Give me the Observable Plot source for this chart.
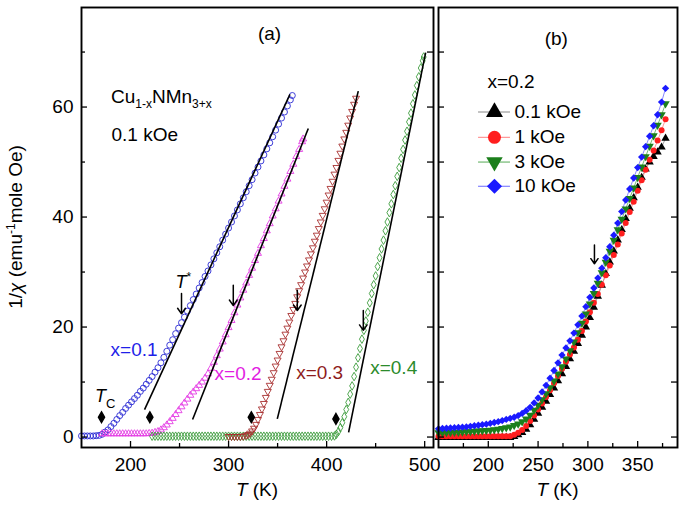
<!DOCTYPE html>
<html><head><meta charset="utf-8">
<script src="https://cdn.jsdelivr.net/npm/d3@7"></script>
<script src="https://cdn.jsdelivr.net/npm/@observablehq/plot@0.6"></script>
<style>
body{margin:0;background:#fff;}
#wrap{position:relative;width:685px;height:508px;}
#wrap svg{position:absolute;top:0;}
</style></head><body><div id="wrap"></div>
<script>
// ---------- Panel (a): Cu1-xNMn3+x, 0.1 kOe, pairs [T (K), 1/chi] ----------
const x01 = [[150,0.2],[153,0.2],[156,0.2],[159,0.2],[162,0.2],[165,0.25],[168,0.3],[171,0.5],[174,0.9],[177,1.3],[180,1.9],[183,2.5],[186,3.2],[189,3.9],[192,4.5],[195,5.2],[198,5.8],[201,6.4],[204,7.0],[207,7.6],[210,8.3],[213,8.9],[216,9.6],[219,10.3],[222,11.0],[225,11.8],[228,12.6],[231,13.5],[234,14.5],[237,15.6],[240,16.7],[243,17.7],[246,18.8],[249,19.8],[252,20.8],[255,21.8],[258,22.9],[261,23.9],[264,25.0],[267,26.0],[270,27.1],[273,28.1],[276,29.2],[279,30.2],[282,31.3],[285,32.4],[288,33.5],[291,34.6],[294,35.8],[297,36.9],[300,38.0],[303,39.1],[306,40.2],[309,41.3],[312,42.4],[315,43.5],[318,44.6],[321,45.7],[324,46.8],[327,48.0],[330,49.1],[333,50.2],[336,51.3],[339,52.4],[342,53.5],[345,54.6],[348,55.8],[351,56.9],[354,58.0],[357,59.1],[360,60.2],[363,61.3],[365,62.1]];
const x02 = [[171,0.6],[174,0.6],[177,0.6],[180,0.6],[183,0.6],[186,0.6],[189,0.6],[192,0.6],[195,0.6],[198,0.6],[201,0.6],[204,0.6],[207,0.6],[210,0.6],[213,0.6],[216,0.6],[219,0.65],[222,0.7],[225,0.85],[228,1.0],[231,1.3],[234,1.7],[237,2.2],[240,2.8],[243,3.4],[246,4.1],[249,4.8],[252,5.5],[255,6.2],[258,6.9],[261,7.6],[264,8.2],[267,8.8],[270,9.4],[273,10.0],[276,10.7],[279,11.5],[282,12.5],[285,13.6],[288,14.8],[291,16.0],[294,17.3],[297,18.6],[300,19.9],[303,21.2],[306,22.6],[309,24.0],[312,25.3],[315,26.7],[318,28.0],[321,29.4],[324,30.7],[327,32.1],[330,33.4],[333,34.8],[336,36.1],[339,37.5],[342,38.8],[345,40.2],[348,41.5],[351,42.9],[354,44.2],[357,45.6],[360,46.9],[363,48.3],[366,49.6],[369,51.0],[372,52.3],[375,53.7],[376,54.2]];
const x03 = [[300,0.1],[303,0.1],[306,0.1],[309,0.1],[312,0.1],[315,0.15],[318,0.3],[320,0.45],[322,0.7],[324,1.1],[326,1.6],[328,2.3],[330,3.2],[332,4.1],[334,5.1],[336,6.1],[338,7.2],[340,8.3],[342,9.4],[344,10.5],[346,11.7],[348,12.9],[350,14.0],[352,15.2],[354,16.4],[356,17.5],[358,18.7],[360,19.8],[362,20.9],[364,22.1],[366,23.2],[368,24.3],[370,25.5],[372,26.6],[374,27.7],[376,28.9],[378,30.0],[380,31.1],[382,32.2],[384,33.3],[386,34.4],[388,35.6],[390,36.7],[392,37.9],[394,39.1],[396,40.3],[398,41.5],[400,42.7],[402,44.0],[404,45.2],[406,46.5],[408,47.8],[410,49.0],[412,50.3],[414,51.6],[416,52.9],[418,54.2],[420,55.4],[422,56.7],[424,58.0],[426,59.2],[428,60.5],[430,61.6]];
const x04 = [[222,0.15],[225,0.15],[228,0.15],[231,0.15],[234,0.15],[237,0.15],[240,0.15],[243,0.15],[246,0.15],[249,0.15],[252,0.15],[255,0.15],[258,0.15],[261,0.15],[264,0.15],[267,0.15],[270,0.15],[273,0.15],[276,0.15],[279,0.15],[282,0.15],[285,0.15],[288,0.15],[291,0.15],[294,0.15],[297,0.15],[300,0.15],[303,0.15],[306,0.15],[309,0.15],[312,0.15],[315,0.15],[318,0.15],[321,0.15],[324,0.15],[327,0.15],[330,0.15],[333,0.15],[336,0.15],[339,0.15],[342,0.15],[345,0.15],[348,0.15],[351,0.15],[354,0.15],[357,0.15],[360,0.15],[363,0.15],[366,0.15],[369,0.15],[372,0.15],[375,0.15],[378,0.15],[381,0.15],[384,0.15],[387,0.15],[390,0.15],[393,0.15],[396,0.15],[399,0.15],[402,0.15],[405,0.15],[408,0.2],[410,0.5],[412,1.0],[414,1.7],[416,2.6],[418,3.7],[420,5.0],[422,6.3],[424,7.8],[426,9.3],[428,11.0],[430,12.7],[432,14.4],[434,16.1],[436,17.8],[438,19.4],[440,21.1],[442,22.7],[444,24.4],[446,26.1],[448,27.7],[450,29.3],[452,31.0],[454,32.6],[456,34.2],[458,35.8],[460,37.5],[462,39.1],[464,40.8],[466,42.4],[468,44.1],[470,45.7],[472,47.4],[474,49.0],[476,50.7],[478,52.3],[480,54.0],[482,55.6],[484,57.3],[486,58.9],[488,60.6],[490,62.2],[492,63.9],[494,65.5],[496,67.1],[498,68.4],[499,69.1]];
// linear fits: start T, start value, end T, end value
const fitStartT = [214.3, 263.3, 349.7, 422.4];
const fitStartV = [5.0, 3.2, 3.3, 0.85];
const fitEndT = [362.6, 381.3, 432.3, 501.0];
const fitEndV = [62.3, 56.1, 62.9, 69.9];
// Tc markers
const tcT = [170.4, 219.7, 323.2, 409.5];
const tcV = [3.6, 3.6, 3.6, 3.3];
// T* arrows
const starT = [252, 304.8, 370.1, 437.4];
const starTop = [26.1, 27.6, 26.7, 23.0];
const starTip = [22.4, 23.9, 23.0, 19.4];
const labelsA = ["x=0.1", "x=0.2", "x=0.3", "x=0.4"];

// ---------- Panel (b): x = 0.2, different fields ----------
const tB = [150,154,158,162,166,170,174,178,182,186,190,194,198,202,206,210,214,218,222,226,230,234,238,242,246,250,254,258,262,266,270,274,278,282,286,290,294,298,302,306,310,314,318,322,326,330,334,338,342,346,350,354,358,362,366,370,374,378];
const k01 = [-0.1,-0.1,-0.1,-0.1,-0.1,-0.1,-0.1,-0.1,-0.1,-0.1,-0.1,-0.1,-0.1,-0.1,-0.1,-0.1,-0.1,-0.1,-0.1,0.1,0.4,0.8,1.4,2.2,3.2,4.3,5.4,6.5,7.7,8.9,10.2,11.5,12.8,14.2,15.6,17.0,18.5,20.0,21.7,23.6,25.6,27.6,29.7,31.8,33.8,35.8,37.7,39.7,41.6,43.5,45.4,47.2,48.7,50.0,51.0,51.8,52.7,54.3];
const k1 = [0.15,0.15,0.15,0.15,0.15,0.15,0.15,0.15,0.15,0.15,0.15,0.15,0.15,0.15,0.15,0.15,0.15,0.15,0.15,0.4,0.8,1.3,2.0,2.9,3.9,5.0,6.1,7.3,8.5,9.8,11.1,12.4,13.7,15.0,16.3,17.7,19.3,21.0,22.7,24.4,26.0,27.7,29.4,31.2,33.1,35.0,37.0,38.9,40.9,42.8,44.8,46.7,48.6,50.4,52.1,53.9,55.8,57.8];
const k3 = [0.8,0.8,0.85,0.85,0.9,0.9,0.95,1.0,1.0,1.05,1.1,1.15,1.2,1.25,1.35,1.45,1.55,1.7,1.85,2.1,2.4,2.8,3.3,4.0,4.9,5.8,6.8,7.9,9.0,10.2,11.5,12.8,14.2,15.7,17.3,19.0,20.7,22.4,24.2,26.1,28.0,29.9,31.8,33.8,35.8,37.7,39.6,41.5,43.4,45.3,47.2,49.1,51.0,52.9,54.8,56.7,58.6,60.6];
const k10 = [1.5,1.55,1.6,1.65,1.7,1.75,1.8,1.85,1.95,2.05,2.15,2.25,2.35,2.5,2.65,2.8,3.0,3.2,3.4,3.6,3.9,4.3,4.8,5.4,6.2,7.1,8.2,9.4,10.7,12.1,13.5,14.9,16.2,17.5,18.9,20.4,22.0,23.7,25.4,27.1,28.9,30.7,32.6,34.6,36.7,38.9,41.0,43.1,45.1,47.1,49.0,50.9,52.8,54.7,56.6,58.6,60.9,63.4];
const fieldLabels = ["0.1 kOe", "1 kOe", "3 kOe", "10 kOe"];
const arrowB = {t: 306.6, top: 34.9, tip: 31.5};

// ---------- ticks ----------
const yMajor = [0, 20, 40, 60];
const yMinor = [10, 30, 50, 70];
const yAll = [0, 10, 20, 30, 40, 50, 60, 70];
const xTicksA = [200, 300, 400, 500];
const xMinorA = [250, 350, 450];
const xTicksB = [200, 250, 300, 350];
const xMinorB = [175, 225, 275, 325, 375];

// ---------- layout ----------
const font = "'Liberation Sans', Arial, Helvetica, sans-serif";
const H = 508, mT = 7, mB = 61, innerH = H - mT - mB;
const yDomain = [-1.9, 78.1];
const WA = 436, mLA = 81, mRA = 3, innerWA = WA - mLA - mRA;
const WB = 249, mLB = 2, mRB = 8, innerWB = WB - mLB - mRB;

const sqrt3 = Math.sqrt(3);
const triangleDown = {draw(ctx, size) {
  const y = -Math.sqrt(size / (sqrt3 * 3));
  ctx.moveTo(0, -y * 2);
  ctx.lineTo(-sqrt3 * y, y);
  ctx.lineTo(sqrt3 * y, y);
  ctx.closePath();
}};
const rows = pairs => pairs.map(([t, v]) => ({t, v}));
const ns = "http://www.w3.org/2000/svg";
function rich(svg, x, y, segs, {anchor = "start", rotate = 0, size = 19} = {}) {
  const t = document.createElementNS(ns, "text");
  t.setAttribute("transform", `translate(${x},${y})` + (rotate ? ` rotate(${rotate})` : ""));
  t.setAttribute("text-anchor", anchor);
  t.setAttribute("font-family", font);
  t.setAttribute("font-size", size);
  t.setAttribute("fill", "black");
  let shift = 0;
  for (const s of segs) {
    const sp = document.createElementNS(ns, "tspan");
    const target = (s.shift || 0);
    sp.setAttribute("dy", target - shift);
    shift = target;
    if (s.size) sp.setAttribute("font-size", s.size);
    if (s.italic) sp.setAttribute("font-style", "italic");
    sp.textContent = s.text;
    t.appendChild(sp);
  }
  svg.appendChild(t);
}

const seriesA = [
  {data: x01, color: "#2a2ad4", symbol: "circle", r: 3},
  {data: x02, color: "#e43ce4", symbol: "triangle", r: 2.6},
  {data: x04, color: "#3c9c3c", symbol: "diamond", r: 2.6},
  {data: x03, color: "#a83030", symbol: triangleDown, r: 2.6}
];
const labelColors = ["#1f1fe8", "#e21ee2", "#8e1c1c", "#2b8b2b"];
const labelPos = [[203.6, 15.8], [309.7, 11.4], [392.9, 11.6], [468.4, 12.5]];

const fits = fitStartT.map((t, i) => ({t1: t, v1: fitStartV[i], t2: fitEndT[i], v2: fitEndV[i]}));
const tcs = tcT.map((t, i) => ({t, v: tcV[i]}));
const stars = starT.map((t, i) => ({t, top: starTop[i], tip: starTip[i]}));

const plotA = Plot.plot({
  width: WA, height: H, marginLeft: mLA, marginRight: mRA, marginTop: mT, marginBottom: mB,
  x: {domain: [150, 509]},
  y: {domain: yDomain},
  style: {fontFamily: font, fontSize: "19px", background: "transparent", color: "black", overflow: "visible"},
  marks: [
    ...seriesA.map(s => Plot.dot(rows(s.data), {x: "t", y: "v", symbol: s.symbol, r: s.r, fill: "none", stroke: s.color, strokeWidth: 0.9})),
    Plot.link(fits, {x1: "t1", y1: "v1", x2: "t2", y2: "v2", stroke: "black", strokeWidth: 1.6}),
    Plot.dot(tcs, {x: "t", y: "v", symbol: "diamond", r: 3.2, fill: "black", stroke: "black"}),
    Plot.arrow(stars, {x: "t", y1: "top", y2: "tip", stroke: "black", strokeWidth: 1.5, headAngle: 70}),
    ...labelsA.map((l, i) => Plot.text([l], {x: () => labelPos[i][0], y: () => labelPos[i][1], text: d => d, fill: labelColors[i], fontSize: 19})),
    Plot.text(["(a)"], {x: () => 341.8, y: () => 73.3, text: d => d, fontSize: 19, fill: "black"}),
    Plot.text(["0.1 kOe"], {x: () => 180.6, y: () => 55, text: d => d, fontSize: 19, fill: "black", textAnchor: "start"}),
    Plot.frame({stroke: "black", strokeWidth: 1.9}),
    Plot.tickY(yMajor, {y: d => d, insetRight: innerWA - 6, stroke: "black", strokeWidth: 1.3}),
    Plot.tickY(yMinor, {y: d => d, insetRight: innerWA - 4, stroke: "black", strokeWidth: 1.3}),
    Plot.tickY(yAll, {y: d => d, insetLeft: innerWA - 6, stroke: "black", strokeWidth: 1.3}),
    Plot.tickX(xTicksA, {x: d => d, insetTop: innerH - 6, stroke: "black", strokeWidth: 1.3}),
    Plot.tickX(xMinorA, {x: d => d, insetTop: innerH - 4, stroke: "black", strokeWidth: 1.3}),
    Plot.axisY(yMajor, {tickSize: 0, tickPadding: 8, label: null, fill: "black"}),
    Plot.axisX(xTicksA, {tickSize: 0, tickPadding: 10, label: null, fill: "black"})
  ]
});
plotA.style.left = "0px";
document.getElementById("wrap").appendChild(plotA);
{
  const sx = plotA.scale("x"), sy = plotA.scale("y");
  const c = 6.8;
  rich(plotA, sx.apply(180.6), sy.apply(61.8) + c, [{text: "Cu"}, {text: "1-x", size: 12, shift: 5}, {text: "NMn", shift: 0}, {text: "3+x", size: 12, shift: 5}]);
  rich(plotA, sx.apply(164.3), sy.apply(7.6) + c, [{text: "T", italic: true}, {text: "C", size: 13, shift: 6}], {size: 18});
  rich(plotA, sx.apply(246.5), sy.apply(28.2) + c, [{text: "T", italic: true}, {text: "*", size: 12, shift: -7}], {size: 18});
  const [r0, r1] = sy.range;
  rich(plotA, 22, (r0 + r1) / 2, [{text: "1/"}, {text: "χ", italic: true}, {text: " (emu"}, {text: "-1", size: 12, shift: -7}, {text: "mole Oe)", shift: 0}], {anchor: "middle", rotate: -90});
  const [x0, x1] = sx.range;
  rich(plotA, (x0 + x1) / 2, 489 + c, [{text: "T", italic: true}, {text: " (K)"}], {anchor: "middle"});
}

// ---------- Panel (b) ----------
const seriesB = [
  {v: k01, color: "#000000", line: "#888888", symbol: "triangle", r: 3.1, lr: 6.3},
  {v: k1, color: "#ff1e1e", line: "#ff8080", symbol: "circle", r: 3, lr: 6.5},
  {v: k3, color: "#1c7f1c", line: "#55aa55", symbol: triangleDown, r: 3.1, lr: 6.1},
  {v: k10, color: "#1a1aff", line: "#6a6aff", symbol: "diamond2", r: 3.3, lr: 6.8}
];
const legendV = [59.1, 54.5, 50.0, 45.6];
const plotB = Plot.plot({
  width: WB, height: H, marginLeft: mLB, marginRight: mRB, marginTop: mT, marginBottom: mB,
  x: {domain: [150, 390]},
  y: {domain: yDomain, axis: null},
  style: {fontFamily: font, fontSize: "19px", background: "transparent", color: "black", overflow: "visible"},
  marks: [
    ...seriesB.map(s => Plot.line(tB.map((t, i) => ({t, v: s.v[i]})), {x: "t", y: "v", stroke: s.line, strokeWidth: 0.8})),
    ...seriesB.map(s => Plot.dot(tB.map((t, i) => ({t, v: s.v[i]})), {x: "t", y: "v", symbol: s.symbol, r: s.r, fill: s.color, stroke: "none"})),
    Plot.arrow([arrowB], {x: "t", y1: "top", y2: "tip", stroke: "black", strokeWidth: 1.5, headAngle: 70}),
    Plot.text(["(b)"], {x: () => 268.3, y: () => 72.4, text: d => d, fontSize: 19, fill: "black"}),
    Plot.text(["x=0.2"], {x: () => 199.2, y: () => 64.5, text: d => d, fontSize: 19, fill: "black", textAnchor: "start"}),
    ...seriesB.map((s, i) => Plot.ruleY([legendV[i]], {y: d => d, x1: 190.2, x2: 222.3, stroke: s.line, strokeWidth: 1})),
    ...seriesB.map((s, i) => Plot.dot([legendV[i]], {x: () => 206.2, y: d => d, symbol: s.symbol, r: s.lr, fill: s.color, stroke: "none"})),
    ...fieldLabels.map((l, i) => Plot.text([l], {x: () => 226.3, y: () => legendV[i], text: d => d, fontSize: 19, fill: "black", textAnchor: "start"})),
    Plot.frame({stroke: "black", strokeWidth: 1.9}),
    Plot.tickY(yAll, {y: d => d, insetRight: innerWB - 6, stroke: "black", strokeWidth: 1.3}),
    Plot.tickY(yAll, {y: d => d, insetLeft: innerWB - 6, stroke: "black", strokeWidth: 1.3}),
    Plot.tickX(xTicksB, {x: d => d, insetTop: innerH - 6, stroke: "black", strokeWidth: 1.3}),
    Plot.tickX(xMinorB, {x: d => d, insetTop: innerH - 4, stroke: "black", strokeWidth: 1.3}),
    Plot.axisX(xTicksB, {tickSize: 0, tickPadding: 10, label: null, fill: "black"})
  ]
});
plotB.style.left = "436px";
document.getElementById("wrap").appendChild(plotB);
{
  const sx = plotB.scale("x");
  const [x0, x1] = sx.range;
  rich(plotB, (x0 + x1) / 2, 489 + 6.8, [{text: "T", italic: true}, {text: " (K)"}], {anchor: "middle"});
}
</script>
</body></html>
